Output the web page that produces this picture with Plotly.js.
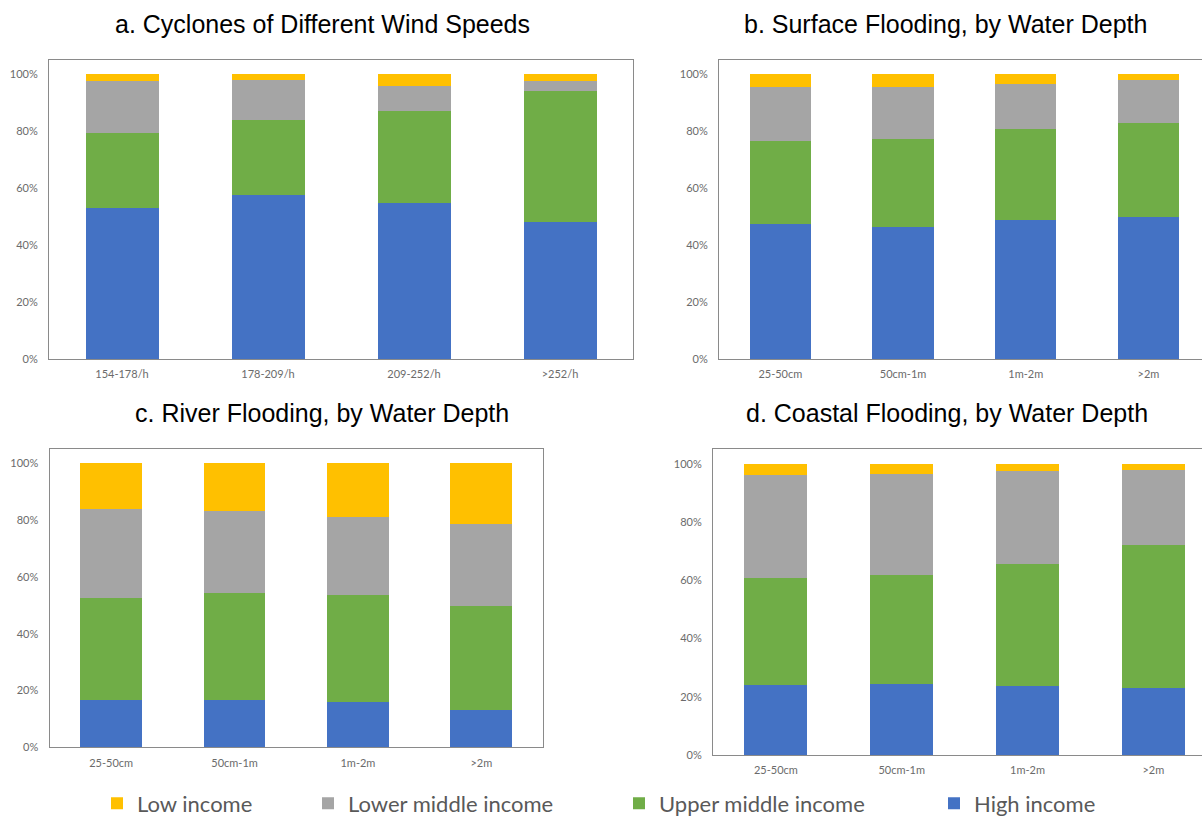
<!DOCTYPE html>
<html>
<head>
<meta charset="utf-8">
<script src="https://cdn.plot.ly/plotly-3.0.1.min.js"></script>
<style>html,body{margin:0;padding:0;background:#fff;}#chart{width:1202px;height:818px;}</style>
</head>
<body>
<div id="chart"></div>
<script>
// ---------- data ----------
const cycloneCats = ['154-178/h', '178-209/h', '209-252/h', '>252/h'];
const depthCats = ['25-50cm', '50cm-1m', '1m-2m', '>2m'];

const seriesNames = ['High income', 'Upper middle income', 'Lower middle income', 'Low income'];
const seriesColors = ['#4472C4', '#70AD47', '#A5A5A5', '#FFC000'];

// a. Cyclones of Different Wind Speeds (%)
const aHigh = [53.0, 57.7, 54.9, 48.0];
const aUpper = [26.4, 26.4, 32.1, 46.0];
const aLower = [18.3, 13.9, 8.8, 3.7];
const aLow = [2.3, 2.0, 4.2, 2.3];

// b. Surface Flooding, by Water Depth (%)
const bHigh = [47.5, 46.4, 48.9, 49.9];
const bUpper = [29.1, 30.9, 31.8, 33.1];
const bLower = [18.9, 18.2, 16.0, 15.0];
const bLow = [4.5, 4.5, 3.3, 2.0];

// c. River Flooding, by Water Depth (%)
const cHigh = [16.8, 16.5, 16.0, 13.3];
const cUpper = [35.8, 37.8, 37.6, 36.5];
const cLower = [31.4, 28.9, 27.5, 28.9];
const cLow = [16.0, 16.8, 18.9, 21.3];

// d. Coastal Flooding, by Water Depth (%)
const dHigh = [24.1, 24.3, 23.6, 23.0];
const dUpper = [36.8, 37.4, 42.0, 49.2];
const dLower = [35.2, 34.9, 32.0, 25.6];
const dLow = [3.9, 3.4, 2.4, 2.2];

const panelTitles = ['a. Cyclones of Different Wind Speeds', 'b. Surface Flooding, by Water Depth',
                     'c. River Flooding, by Water Depth', 'd. Coastal Flooding, by Water Depth'];
const yTicks = [0, 20, 40, 60, 80, 100];
const yTickText = yTicks.map(v => v + '%');

// ---------- build ----------
const panels = [
  {cats: cycloneCats, vals: [aHigh, aUpper, aLower, aLow], xa: 'x', ya: 'y'},
  {cats: depthCats, vals: [bHigh, bUpper, bLower, bLow], xa: 'x2', ya: 'y2'},
  {cats: depthCats, vals: [cHigh, cUpper, cLower, cLow], xa: 'x3', ya: 'y3'},
  {cats: depthCats, vals: [dHigh, dUpper, dLower, dLow], xa: 'x4', ya: 'y4'}
];
const legendIds = ['legend4', 'legend3', 'legend2', 'legend']; // High, Upper, Lower, Low

const traces = [];
panels.forEach((p, pi) => {
  p.vals.forEach((v, si) => {
    traces.push({
      type: 'bar', x: p.cats, y: v, name: seriesNames[si],
      xaxis: p.xa, yaxis: p.ya,
      marker: {color: seriesColors[si], line: {width: 0}},
      showlegend: pi === 0, legend: legendIds[si],
      hovertemplate: '%{x}: %{y}%<extra>' + seriesNames[si] + '</extra>'
    });
  });
});

const W = 1202, H = 818;
const tickFont = {family: 'Lato, sans-serif', size: 11, color: '#6b6b6b'};
const lineCol = '#8a8a8a';

function xAx(l, r, range, mirror, anchor) {
  return {domain: [l / W, r / W], type: 'category', range: range, showline: true, linecolor: lineCol,
    linewidth: 1, mirror: mirror, ticks: '', showgrid: false, zeroline: false, tickfont: tickFont,
    ticklabelstandoff: 5, fixedrange: true, anchor: anchor};
}
function yAx(top, bottom, anchor, mirror) {
  return {domain: [1 - bottom / H, 1 - top / H], range: [0, 105], tickmode: 'array',
    tickvals: yTicks, ticktext: yTickText,
    showline: true, linecolor: lineCol, linewidth: 1, mirror: mirror, ticks: '', showgrid: false,
    zeroline: false, tickfont: tickFont, ticklabelstandoff: 8, anchor: anchor, fixedrange: true};
}

const legFont = {family: 'Lato, sans-serif', size: 22, color: '#595959'};
function leg(x) {
  return {x: x / W, xanchor: 'left', y: 1 - 803.5 / H, yanchor: 'middle', orientation: 'h',
    bgcolor: 'rgba(0,0,0,0)', borderwidth: 0, font: legFont};
}

const titleFont = {family: 'Liberation Sans, Arial, sans-serif', size: 25, color: '#000'};
const titlePos = [[322, 24], [945, 24], [322, 413], [947, 413]];

const layout = {
  width: W, height: H, margin: {l: 0, r: 0, t: 0, b: 0, autoexpand: false},
  paper_bgcolor: '#fff', plot_bgcolor: '#fff',
  barmode: 'stack', bargap: 0.5,
  xaxis: xAx(49, 633, [-0.5, 3.5], true, 'y'),
  yaxis: yAx(60, 359, 'x', true),
  xaxis2: xAx(719, 1202, [-0.5, -0.5 + 483 / 122.7], true, 'y2'),
  yaxis2: yAx(60, 359, 'x2', false),
  xaxis3: xAx(49.5, 543, [-0.5, 3.5], true, 'y3'),
  yaxis3: yAx(449, 747.3, 'x3', true),
  xaxis4: xAx(713, 1202, [-0.5, -0.5 + 489 / 125.8], true, 'y4'),
  yaxis4: yAx(449.3, 755, 'x4', false),
  legend: leg(97), legend2: leg(308), legend3: leg(619), legend4: leg(934),
  annotations: panelTitles.map((t, i) => ({
    text: t, xref: 'paper', yref: 'paper', x: titlePos[i][0] / W, y: 1 - titlePos[i][1] / H,
    xanchor: 'center', yanchor: 'middle', showarrow: false, font: titleFont
  }))
};

Plotly.newPlot('chart', traces, layout, {displayModeBar: false, staticPlot: true});
</script>
</body>
</html>
